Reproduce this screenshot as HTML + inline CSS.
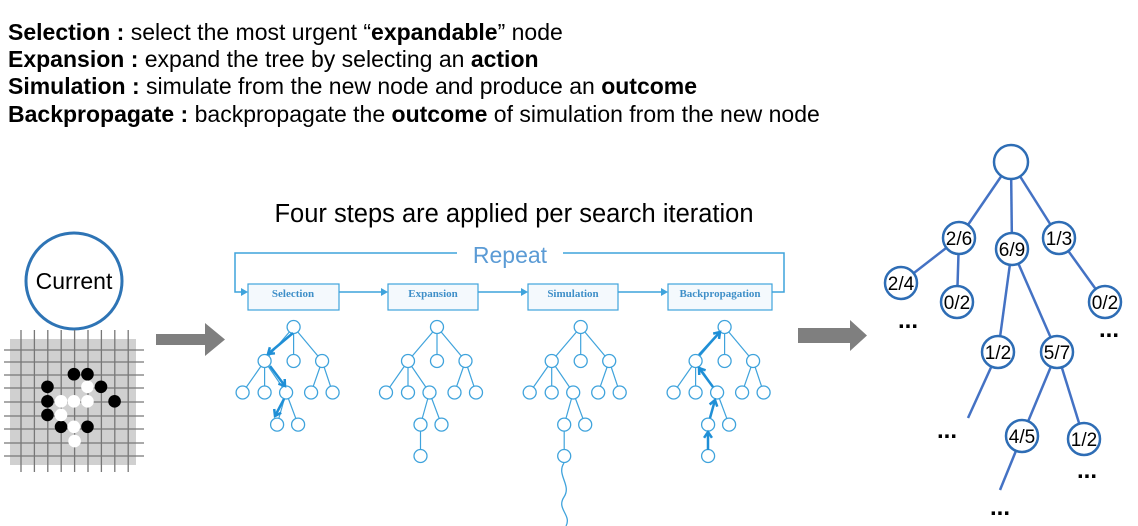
<!DOCTYPE html>
<html><head><meta charset="utf-8"><style>
body{margin:0;background:#fff;width:1138px;height:526px;overflow:hidden;font-family:"Liberation Sans",Arial,sans-serif}
.t{position:absolute;left:8px;font-size:23px;color:#000;white-space:nowrap;line-height:27px}
</style></head><body>
<div class="t" style="top:19px"><b>Selection :</b> select the most urgent “<b>expandable</b>” node</div>
<div class="t" style="top:46px"><b>Expansion :</b> expand the tree by selecting an <b>action</b></div>
<div class="t" style="top:73px"><b>Simulation :</b> simulate from the new node and produce an <b>outcome</b></div>
<div class="t" style="top:101px"><b>Backpropagate :</b> backpropagate the <b>outcome</b> of simulation from the new node</div>
<svg id="s" width="1138" height="526" style="position:absolute;left:0;top:0" xmlns="http://www.w3.org/2000/svg" font-family="Liberation Sans, Arial, sans-serif">
<text x="514" y="222" font-size="25.5" text-anchor="middle">Four steps are applied per search iteration</text>
<circle cx="74" cy="281" r="48" fill="#fff" stroke="#2e74b5" stroke-width="3"/>
<text x="74" y="289" font-size="23" text-anchor="middle">Current</text>
<rect x="10" y="339" width="126" height="126" fill="#d0d0d0"/>
<g id="grid" stroke="#777" stroke-width="1.3"></g>
<g id="stones"></g>
<polygon points="156,334 205,334 205,323 225,339.5 205,356 205,345 156,345" fill="#7f7f7f"/>
<polygon points="798,328 850,328 850,320 867,335.5 850,351 850,343 798,343" fill="#7f7f7f"/>
<g stroke="#3fa3dc" stroke-width="1.5" fill="none">
<polyline points="457,253 235,253 235,292 244,292"/>
<polyline points="563,253 784,253 784,292 772,292"/>
<line x1="339" y1="292" x2="381" y2="292"/><line x1="478" y1="292" x2="521" y2="292"/><line x1="618" y1="292" x2="661" y2="292"/>
</g>
<g fill="#3fa3dc"><polygon points="248,292 241,288 241,296"/><polygon points="388,292 381,288 381,296"/><polygon points="528,292 521,288 521,296"/><polygon points="668,292 661,288 661,296"/></g>
<text x="510" y="263" font-size="23" fill="#5b9bd5" text-anchor="middle">Repeat</text>
<g stroke="#3fa3dc" stroke-width="1.2" fill="#f4f9fd">
<rect x="248" y="284" width="91" height="26"/><rect x="388" y="284" width="90" height="26"/><rect x="528" y="284" width="90" height="26"/><rect x="668" y="284" width="104" height="26"/>
</g>
<g font-family="Liberation Serif, serif" font-size="11" font-weight="bold" fill="#3f8fc8" text-anchor="middle">
<text x="293" y="297">Selection</text><text x="433" y="297">Expansion</text><text x="573" y="297">Simulation</text><text x="720" y="297">Backpropagation</text>
</g>
<g id="trees"></g>
<path d="M564,463 C556,475 572,485 564,497 C556,509 572,515 566,526" stroke="#3fa3dc" stroke-width="1.3" fill="none"/>
<g stroke="#4472c4" stroke-width="2.5">
<line x1="1011" y1="162" x2="959" y2="238"/><line x1="1011" y1="162" x2="1012" y2="249"/><line x1="1011" y1="162" x2="1059" y2="238"/>
<line x1="959" y1="238" x2="901" y2="283"/><line x1="959" y1="238" x2="957" y2="302"/>
<line x1="1059" y1="238" x2="1105" y2="302"/>
<line x1="1012" y1="249" x2="998" y2="352"/><line x1="1012" y1="249" x2="1057" y2="352"/>
<line x1="998" y1="352" x2="968" y2="418"/>
<line x1="1057" y1="352" x2="1022" y2="436"/><line x1="1057" y1="352" x2="1084" y2="439"/>
<line x1="1022" y1="436" x2="1000" y2="490"/>
</g>
<g stroke="#2e6db5" stroke-width="2.5" fill="#fff">
<circle cx="1011" cy="162" r="17"/><circle cx="959" cy="238" r="16"/><circle cx="1012" cy="249" r="16"/><circle cx="1059" cy="238" r="16"/>
<circle cx="901" cy="283" r="16"/><circle cx="957" cy="302" r="16"/><circle cx="1105" cy="302" r="16"/>
<circle cx="998" cy="352" r="16"/><circle cx="1057" cy="352" r="16"/><circle cx="1022" cy="436" r="16"/><circle cx="1084" cy="439" r="16"/>
</g>
<g font-size="19" text-anchor="middle">
<text x="959" y="245">2/6</text><text x="1012" y="256">6/9</text><text x="1059" y="245">1/3</text>
<text x="901" y="290">2/4</text><text x="957" y="309">0/2</text><text x="1105" y="309">0/2</text>
<text x="998" y="359">1/2</text><text x="1057" y="359">5/7</text><text x="1022" y="443">4/5</text><text x="1084" y="446">1/2</text>
</g>
<g font-size="24" font-weight="bold" text-anchor="middle">
<text x="908" y="328">...</text><text x="1109" y="337">...</text><text x="947" y="438">...</text><text x="1087" y="478">...</text><text x="1000" y="515">...</text>
</g>
</svg>
<script>
var NS="http://www.w3.org/2000/svg";
function el(p,n,a){var e=document.createElementNS(NS,n);for(var k in a)e.setAttribute(k,a[k]);p.appendChild(e);return e;}
var g=document.getElementById('grid');
for(var i=0;i<9;i++){var x=21+i*13.4;el(g,'line',{x1:x,y1:330,x2:x,y2:472});}
var ys=[350,362,375,388,402,416,429,443,456];
ys.forEach(function(y){el(g,'line',{x1:4,y1:y,x2:144,y2:y});});
var st=document.getElementById('stones');
function sx(z){return z/2.95} function sy(z){return z/2.95+220}
[[218,455],[258,455],[140,492],[298,492],[140,535],[338,535],[140,575],[180,610],[258,610]].forEach(function(p){el(st,'circle',{cx:sx(p[0]),cy:sy(p[1]),r:6.3,fill:'#000'});});
[[258,492],[180,535],[218,535],[258,535],[180,575],[218,610],[220,652]].forEach(function(p){el(st,'circle',{cx:sx(p[0]),cy:sy(p[1]),r:6.3,fill:'#fff'});});
var T=document.getElementById('trees');
var Y=[327,361,392.5,424.6,456];
var nodes={r:[0,0],a:[-29,1],b:[0,1],c:[28.5,1],d:[-51,2],e:[-29,2],f:[-7.5,2],g:[17.5,2],h:[39,2],i:[-16.5,3],j:[4.5,3],k:[-16.5,4]};
var edges=[['r','a'],['r','b'],['r','c'],['a','d'],['a','e'],['a','f'],['c','g'],['c','h'],['f','i'],['f','j'],['i','k']];
var roots=[293.6,437,580.7,724.6];
roots.forEach(function(R,t){
 function P(n){return [R+nodes[n][0],Y[nodes[n][1]]];}
 edges.forEach(function(e){if(t==0&&e[0]=='i')return;var a=P(e[0]),b=P(e[1]);el(T,'line',{x1:a[0],y1:a[1],x2:b[0],y2:b[1],stroke:'#3fa3dc','stroke-width':1.2});});
 for(var n in nodes){if(t==0&&n=='k')continue;var p=P(n);el(T,'circle',{cx:p[0],cy:p[1],r:6.5,fill:'#fff',stroke:'#3fa3dc','stroke-width':1.3});}
});
function arr(x1,y1,x2,y2){el(T,'line',{x1:x1,y1:y1,x2:x2,y2:y2,stroke:'#1f8fd6','stroke-width':2.5});
 var a=Math.atan2(y2-y1,x2-x1),L=7;
 el(T,'polyline',{points:(x2-L*Math.cos(a-0.6))+','+(y2-L*Math.sin(a-0.6))+' '+x2+','+y2+' '+(x2-L*Math.cos(a+0.6))+','+(y2-L*Math.sin(a+0.6)),fill:'none',stroke:'#1f8fd6','stroke-width':2.5});}
arr(293,333,268,354);arr(270,366,285,386);arr(284,399,275,416);
arr(708,450,708,432);arr(710,418,715,400);arr(713,387,699,368);arr(699,355,720,332);
</script>
</body></html>
